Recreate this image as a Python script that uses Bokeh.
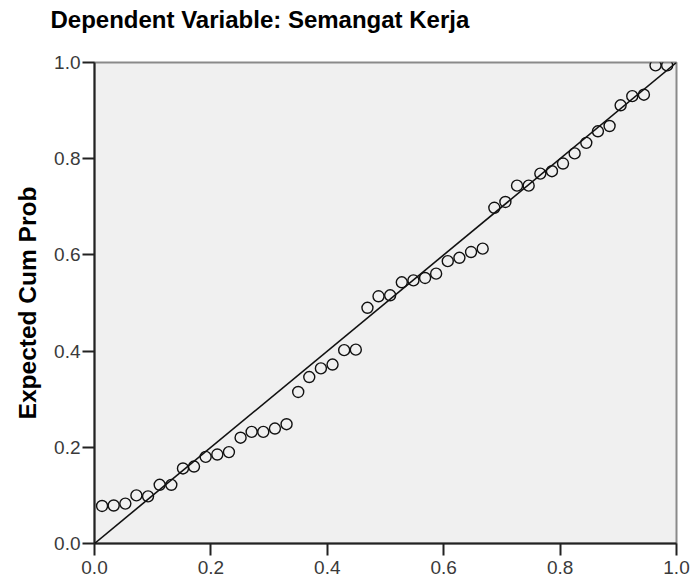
from bokeh.plotting import figure
from bokeh.models import Range1d, FixedTicker, PrintfTickFormatter, Slope, Title
from bokeh.embed import file_html
from bokeh.resources import INLINE

title_text = "Dependent Variable: Semangat Kerja"
y_label = "Expected Cum Prob"
tick_values = [0.0, 0.2, 0.4, 0.6, 0.8, 1.0]

observed_cum_prob = [
    0.013, 0.033, 0.053, 0.072, 0.092, 0.112, 0.132, 0.152, 0.171, 0.191,
    0.211, 0.231, 0.251, 0.270, 0.290, 0.310, 0.330, 0.350, 0.369, 0.389,
    0.409, 0.429, 0.449, 0.469, 0.488, 0.508, 0.528, 0.548, 0.568, 0.587,
    0.607, 0.627, 0.647, 0.667, 0.687, 0.706, 0.726, 0.746, 0.766, 0.786,
    0.805, 0.825, 0.845, 0.865, 0.885, 0.904, 0.924, 0.944, 0.964, 0.984,
]
expected_cum_prob = [
    0.078, 0.079, 0.083, 0.100, 0.098, 0.122, 0.122, 0.156, 0.160, 0.180,
    0.185, 0.190, 0.220, 0.232, 0.232, 0.239, 0.248, 0.315, 0.346, 0.364,
    0.372, 0.402, 0.403, 0.490, 0.514, 0.516, 0.543, 0.547, 0.552, 0.561,
    0.587, 0.594, 0.606, 0.613, 0.698, 0.710, 0.744, 0.744, 0.769, 0.774,
    0.790, 0.811, 0.833, 0.857, 0.868, 0.911, 0.930, 0.933, 0.994, 0.994,
]

FONT = "Liberation Sans"

p = figure(
    width=692, height=577,
    x_range=Range1d(0, 1), y_range=Range1d(0, 1),
    output_backend="svg", toolbar_location=None, title=None,
    min_border_left=94, min_border_right=16, min_border_top=62, min_border_bottom=34,
    background_fill_color="#f0f0f0", border_fill_color="white",
)

# spacer between frame and title (panel closest to the frame)
p.add_layout(Title(text=" ", text_font_size="1px", standoff=20), "above")
# the chart title, in the outer panel
p.add_layout(Title(
    text=title_text, text_font=FONT, text_font_size="24px",
    text_font_style="bold", text_color="black",
    align="left", offset=-44, vertical_align="top", standoff=10,
), "above")

p.outline_line_color = "#8a8a8a"
p.outline_line_width = 2

p.xgrid.visible = False
p.ygrid.visible = False

for ax in (p.xaxis[0], p.yaxis[0]):
    ax.ticker = FixedTicker(ticks=tick_values)
    ax.formatter = PrintfTickFormatter(format="%.1f")
    ax.minor_tick_line_color = None
    ax.major_tick_in = 0
    ax.major_tick_out = 12
    ax.major_tick_line_color = "#222222"
    ax.major_tick_line_width = 2
    ax.axis_line_color = "#222222"
    ax.axis_line_width = 2
    ax.major_label_text_font = FONT
    ax.major_label_text_font_size = "19px"
    ax.major_label_text_color = "#3a3a3a"
    ax.major_label_standoff = 2

p.xaxis.major_label_standoff = 5

p.yaxis.axis_label = y_label
p.yaxis.axis_label_text_font = FONT
p.yaxis.axis_label_text_font_size = "24.5px"
p.yaxis.axis_label_text_font_style = "bold"
p.yaxis.axis_label_text_color = "black"
p.yaxis.axis_label_standoff = 10

p.add_layout(Slope(gradient=1, y_intercept=0, line_color="#111111", line_width=1.6))

p.scatter(observed_cum_prob, expected_cum_prob, size=11, marker="circle",
          fill_color=None, line_color="#111111", line_width=1.4)

open("out.html", "w").write(file_html(p, INLINE))
